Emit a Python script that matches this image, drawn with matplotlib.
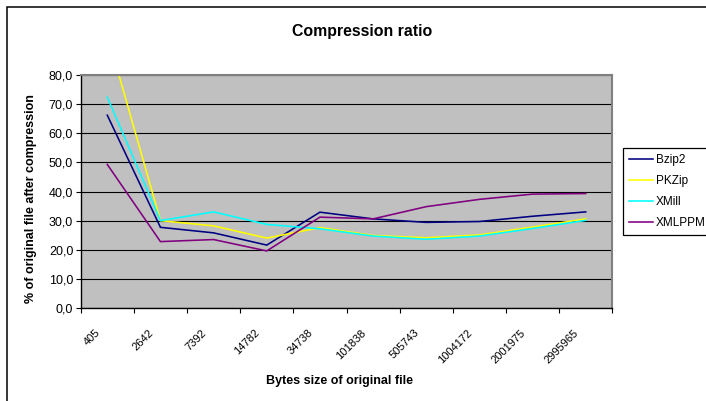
import matplotlib
matplotlib.use("Agg")
import matplotlib.pyplot as plt
import matplotlib.patches as mpatches
from matplotlib.ticker import FixedLocator, FuncFormatter
from matplotlib.transforms import ScaledTranslation

plt.rcParams['font.family'] = ['Liberation Sans', 'DejaVu Sans']

# File sizes (bytes) used as categories
file_sizes = ['405', '2642', '7392', '14782', '34738', '101838',
              '505743', '1004172', '2001975', '2995965']

# Compressed size as % of original, per tool
bzip2 = [66.2, 27.7, 25.8, 21.6, 32.9, 30.6, 29.4, 29.7, 31.5, 33.0]
pkzip = [94.0, 30.0, 28.2, 24.0, 27.6, 24.9, 24.1, 25.1, 27.8, 30.6]
xmill = [72.4, 30.0, 33.0, 28.7, 27.2, 24.7, 23.6, 24.7, 27.3, 30.1]
xmlppm = [49.3, 22.8, 23.5, 19.6, 31.2, 30.6, 34.8, 37.3, 39.1, 39.3]

series_names = ['Bzip2', 'PKZip', 'XMill', 'XMLPPM']
series_colors = ['#000080', '#FFFF00', '#00FFFF', '#800080']

W, H = 706, 401
fig = plt.figure(figsize=(W / 100, H / 100), dpi=100)
fig.patch.set_facecolor('white')

# plot area in pixel terms
x0, x1, ytop, ybot = 80.7, 612.3, 75.0, 308.0
ax = fig.add_axes([x0 / W, 1 - ybot / H, (x1 - x0) / W, (ybot - ytop) / H])
ax.set_facecolor('#C0C0C0')

xs = list(range(len(file_sizes)))
for vals, name, col in zip([bzip2, pkzip, xmill, xmlppm], series_names, series_colors):
    ax.plot(xs, vals, color=col, lw=1.15, label=name, solid_joinstyle='miter')

ax.set_xlim(-0.5, len(file_sizes) - 0.5)
ax.set_ylim(0, 80)

# y axis: ticks every 10 with comma decimal
ax.yaxis.set_major_locator(FixedLocator(range(0, 81, 10)))
ax.yaxis.set_major_formatter(FuncFormatter(lambda v, p: f"{v:.1f}".replace('.', ',')))
ax.grid(axis='y', color='black', lw=0.8)
ax.set_axisbelow(True)
ax.tick_params(axis='y', direction='out', length=3.4, width=0.8, pad=2.0,
               labelsize=9, colors='black')

# x axis: labels at category centres, tick marks on category boundaries
ax.set_xticks(xs)
ax.set_xticklabels(file_sizes, rotation=45, ha='right', va='top', fontsize=8)
ax.set_xticks([i - 0.5 for i in range(len(file_sizes) + 1)], minor=True)
ax.tick_params(axis='x', which='major', length=0, pad=14)
ax.tick_params(axis='x', which='minor', direction='out', length=3.4, width=0.8)
shift = ScaledTranslation(-5 / 100, 0, fig.dpi_scale_trans)
for lab in ax.get_xticklabels():
    lab.set_transform(lab.get_transform() + shift)

for side in ('left', 'bottom'):
    ax.spines[side].set_color('black')
    ax.spines[side].set_linewidth(1.0)
for side in ('top', 'right'):
    ax.spines[side].set_color('#808080')
    ax.spines[side].set_linewidth(1.5)

ax.set_xlabel('Bytes size of original file', fontsize=9, fontweight='bold')
ax.xaxis.set_label_coords((339.8 - x0) / (x1 - x0), -(381 - ybot) / (ybot - ytop))
ax.xaxis.label.set_va('center')
ax.set_ylabel('% of original file after compression', fontsize=9, fontweight='bold')
ax.yaxis.set_label_coords((31 - x0) / (x1 - x0), (ybot - 199) / (ybot - ytop))
ax.yaxis.label.set_va('center')

fig.text(362.5 / W, 1 - 31.7 / H, 'Compression ratio', ha='center', va='center',
         fontsize=11.4, fontweight='bold')

leg = ax.legend(loc='upper left', bbox_to_anchor=(622.7 / W, 1 - 148.3 / H),
                bbox_transform=fig.transFigure, fontsize=8.5, frameon=True,
                fancybox=False, edgecolor='black', framealpha=1,
                handlelength=2.1, handletextpad=0.2, borderpad=0.5,
                labelspacing=0.76, borderaxespad=0)
leg.get_frame().set_linewidth(0.9)

# chart area border
fig.patches.append(mpatches.Rectangle((7.3 / W, -1), 2, 1 - 7.3 / H + 1,
                                      transform=fig.transFigure, fill=False,
                                      edgecolor='black', lw=1.1))

fig.savefig('out.png', dpi=100)
